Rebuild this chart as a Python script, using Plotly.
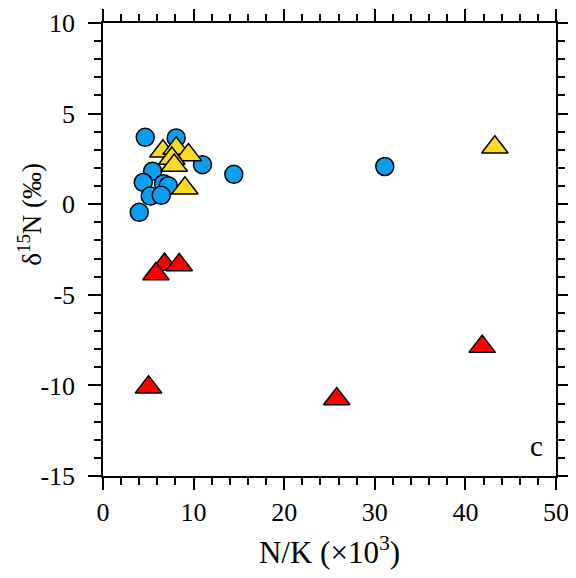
import plotly.graph_objects as go

# Blue circles
blue_x = [4.66, 8.08, 10.98, 14.44, 5.47, 4.44, 6.68, 7.2, 5.21, 6.43, 4.0, 31.1]
blue_y = [3.69, 3.66, 2.18, 1.65, 1.82, 1.20, 1.13, 1.02, 0.45, 0.49, -0.45, 2.08]

# Yellow triangles
yellow_x = [6.61, 8.08, 9.43, 7.6, 7.86, 9.04, 43.25]
yellow_y = [2.92, 3.08, 2.71, 2.52, 2.14, 0.88, 3.14]

# Red triangles
red_x = [6.79, 8.41, 5.84, 5.03, 25.8, 41.85]
red_y = [-3.33, -3.35, -3.85, -10.1, -10.75, -7.86]

x_ticks = [0, 10, 20, 30, 40, 50]
x_ticktext = ["0", "10", "20", "30", "40", "50"]
y_ticks = [-15, -10, -5, 0, 5, 10]
y_ticktext = ["-15", "-10", "-5", "0", "5", "10"]

FONT = "Liberation Serif, Times New Roman, serif"

fig = go.Figure()
fig.add_trace(go.Scatter(x=blue_x, y=blue_y, mode="markers",
                         marker=dict(symbol="circle", size=18, color="#0A9EF0",
                                     line=dict(color="black", width=1.5)),
                         cliponaxis=False))
fig.add_trace(go.Scatter(x=yellow_x, y=yellow_y, mode="markers",
                         marker=dict(symbol="triangle-up", size=23, color="#FDDB22",
                                     line=dict(color="black", width=1.5)),
                         cliponaxis=False))
fig.add_trace(go.Scatter(x=red_x, y=red_y, mode="markers",
                         marker=dict(symbol="triangle-up", size=23, color="#FF0000",
                                     line=dict(color="black", width=1.5)),
                         cliponaxis=False))

axis_common = dict(showline=True, linecolor="black", linewidth=1.5, mirror="ticks",
                   ticks="outside", tickcolor="black", tickwidth=1.5,
                   showgrid=False, zeroline=False, tickmode="array",
                   ticklabeloverflow="allow",
                   tickfont=dict(family=FONT, size=26, color="black"))

fig.update_xaxes(**axis_common, range=[0, 50], tickvals=x_ticks, ticktext=x_ticktext,
                 ticklen=12, ticklabelstandoff=0,
                 minor=dict(dtick=2, tick0=0, ticklen=7, tickwidth=1.5, tickcolor="black",
                            ticks="outside", showgrid=False),
                 title=dict(text="N/K (×10<sup>3</sup>)", standoff=23,
                            font=dict(family=FONT, size=31, color="black")))
fig.update_yaxes(**axis_common, range=[-15, 10], tickvals=y_ticks, ticktext=y_ticktext,
                 ticklen=13, ticklabelstandoff=8,
                 minor=dict(dtick=1, tick0=0, ticklen=7, tickwidth=1.5, tickcolor="black",
                            ticks="outside", showgrid=False))

# y-axis title (placed as annotation to match the reference's off-centre position)
fig.add_annotation(text="δ<sup>15</sup>N (‰)", xref="paper", yref="paper",
                   x=-0.163, y=0.577, xanchor="center", yanchor="middle", textangle=-90,
                   showarrow=False, font=dict(family=FONT, size=27, color="black"))

fig.add_annotation(text="c", xref="paper", yref="paper", x=0.958, y=0.067,
                   xanchor="center", yanchor="middle",
                   showarrow=False, font=dict(family=FONT, size=29, color="black"))

# page body has an 8px margin; figure is sized/offset to compensate
fig.update_layout(width=560, height=562, showlegend=False,
                  plot_bgcolor="white", paper_bgcolor="white",
                  font=dict(family=FONT, color="black"),
                  margin=dict(l=95, r=12, t=15, b=94, autoexpand=False))

fig.write_html("out.html")
